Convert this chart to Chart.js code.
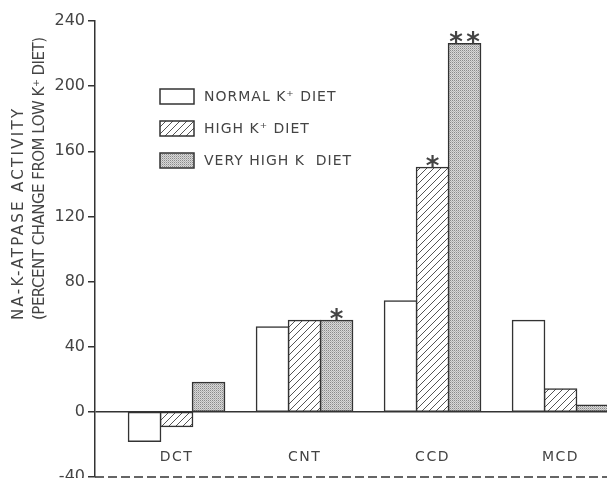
<!DOCTYPE html>
<html>
<head>
<meta charset="utf-8">
<script src="https://cdn.jsdelivr.net/npm/chart.js@4/dist/chart.umd.min.js"></script>
<style>
    html, body { margin: 0; padding: 0; background: #fff; }
    #wrap { width: 607px; height: 478px; position: relative; }
</style>
</head>
<body>
<div id="wrap"><canvas id="naChart"></canvas></div>
<script>
// data
const categories = ['DCT', 'CNT', 'CCD', 'MCD'];
const seriesNames = ['NORMAL K\u207A DIET', 'HIGH K\u207A DIET', 'VERY HIGH K  DIET'];
const normalK = [-18, 52, 68, 56];
const highK = [-9, 56, 150, 14];
const veryHighK = [18, 56, 226, 4];
const yTicks = [-40, 0, 40, 80, 120, 160, 200, 240];
const yTitle = ['NA-K-ATPASE ACTIVITY', '(PERCENT CHANGE FROM LOW K\u207A DIET)'];
// [dataset, category, number of stars]
const starMarks = [[2, 1, 1], [1, 2, 1], [2, 2, 2]];

const INK = '#333';
const TEXT = '#444';
const FONT = '"DejaVu Sans", sans-serif';

function makeHatch() {
    const c = document.createElement('canvas');
    c.width = 7; c.height = 7;
    const g = c.getContext('2d');
    g.fillStyle = '#fff';
    g.fillRect(0, 0, 7, 7);
    g.strokeStyle = '#555';
    g.lineWidth = 1;
    g.beginPath();
    g.moveTo(-1, 8); g.lineTo(8, -1);
    g.moveTo(-1, 1); g.lineTo(1, -1);
    g.moveTo(6, 8); g.lineTo(8, 6);
    g.stroke();
    return g.createPattern(c, 'repeat');
}

function makeStipple() {
    const c = document.createElement('canvas');
    c.width = 2; c.height = 2;
    const g = c.getContext('2d');
    g.fillStyle = '#d8d8d8'; g.fillRect(0, 0, 2, 2);
    g.fillStyle = '#8a8a8a'; g.fillRect(0, 0, 1, 1);
    g.fillStyle = '#b4b4b4'; g.fillRect(1, 1, 1, 1);
    return g.createPattern(c, 'repeat');
}

const fills = ['#ffffff', makeHatch(), makeStipple()];
const seriesData = [normalK, highK, veryHighK];

const datasets = seriesData.map((vals, d) => ({
    label: seriesNames[d],
    data: vals.map((v, i) => ({ x: i, y: v })),
    backgroundColor: fills[d],
    borderColor: INK,
    borderWidth: 1.5,
    borderSkipped: false,
    inflateAmount: 0.8,
    categoryPercentage: 0.75,
    barPercentage: 1
}));

function spacing(ctx, px) {
    if (ctx.letterSpacing !== undefined) ctx.letterSpacing = px + 'px';
}

// legend, category names, stars, dashed base line and y title drawn by hand
const extras = {
    id: 'extras',
    afterDatasetsDraw(chart) {
        const ctx = chart.ctx;
        const x = chart.scales.x, y = chart.scales.y;
        const area = chart.chartArea;
        ctx.save();

        // dashed line along the bottom of the plot
        ctx.strokeStyle = INK;
        ctx.lineWidth = 1.5;
        ctx.setLineDash([9, 4]);
        ctx.beginPath();
        ctx.moveTo(area.left, area.bottom);
        ctx.lineTo(area.right, area.bottom);
        ctx.stroke();
        ctx.setLineDash([]);

        // category labels sit inside the plot, under the zero line
        ctx.fillStyle = TEXT;
        ctx.font = '14px ' + FONT;
        ctx.textAlign = 'center';
        ctx.textBaseline = 'middle';
        spacing(ctx, 1.5);
        categories.forEach((c, i) => {
            ctx.fillText(c, x.getPixelForValue(i), y.getPixelForValue(-28));
        });

        // legend
        ctx.textAlign = 'left';
        spacing(ctx, 1);
        const rowTop = [89, 121, 153];
        seriesNames.forEach((name, d) => {
            ctx.fillStyle = fills[d];
            ctx.fillRect(160, rowTop[d], 34, 15);
            ctx.strokeStyle = INK;
            ctx.lineWidth = 1.5;
            ctx.strokeRect(160, rowTop[d], 34, 15);
            ctx.fillStyle = TEXT;
            ctx.fillText(name, 204, rowTop[d] + 8);
        });

        // significance stars
        ctx.font = 'bold 26px ' + FONT;
        ctx.textAlign = 'center';
        ctx.textBaseline = 'alphabetic';
        spacing(ctx, 0);
        starMarks.forEach(([d, i, n]) => {
            const bar = chart.getDatasetMeta(d).data[i];
            for (let k = 0; k < n; k++) {
                const off = (k - (n - 1) / 2) * 17;
                ctx.fillText('*', bar.x + off, bar.y + 7);
            }
        });

        // y axis title, two lines reading upward
        ctx.font = '15px ' + FONT;
        ctx.fillStyle = TEXT;
        ctx.textAlign = 'left';
        ctx.textBaseline = 'middle';
        const lineX = [19, 40];
        const lineGap = [2.3, -0.5];
        yTitle.forEach((t, k) => {
            ctx.save();
            spacing(ctx, lineGap[k]);
            ctx.translate(lineX[k], 320);
            ctx.rotate(-Math.PI / 2);
            ctx.fillText(t, 0, 0);
            ctx.restore();
        });
        ctx.restore();
    }
};

new Chart(document.getElementById('naChart'), {
    type: 'bar',
    data: { datasets: datasets },
    options: {
        responsive: true,
        maintainAspectRatio: false,
        animation: false,
        layout: { autoPadding: false, padding: { top: 21, bottom: 1, left: 0, right: 0 } },
        plugins: { legend: { display: false }, tooltip: { enabled: false } },
        scales: {
            x: {
                type: 'linear',
                offset: false,
                min: -0.637,
                max: 3.363,
                afterFit: s => { s.height = 0; s.paddingLeft = 0; s.paddingRight = 0; },
                ticks: { display: false, stepSize: 1, includeBounds: false },
                grid: { display: false, offset: false },
                border: { display: false }
            },
            y: {
                min: yTicks[0],
                max: yTicks[yTicks.length - 1],
                afterFit: s => { s.width = 95; s.paddingTop = 0; s.paddingBottom = 0; },
                afterBuildTicks: s => { s.ticks = yTicks.map(v => ({ value: v })); },
                ticks: {
                    color: TEXT,
                    padding: 3,
                    font: { family: FONT, size: 16 }
                },
                grid: {
                    drawOnChartArea: true,
                    drawTicks: true,
                    tickLength: 7,
                    lineWidth: 1.5,
                    tickColor: INK,
                    color: c => (c.tick && c.tick.value === 0 ? INK : 'rgba(0,0,0,0)')
                },
                border: { display: true, color: INK, width: 1.5 }
            }
        }
    },
    plugins: [extras]
});
</script>
</body>
</html>
